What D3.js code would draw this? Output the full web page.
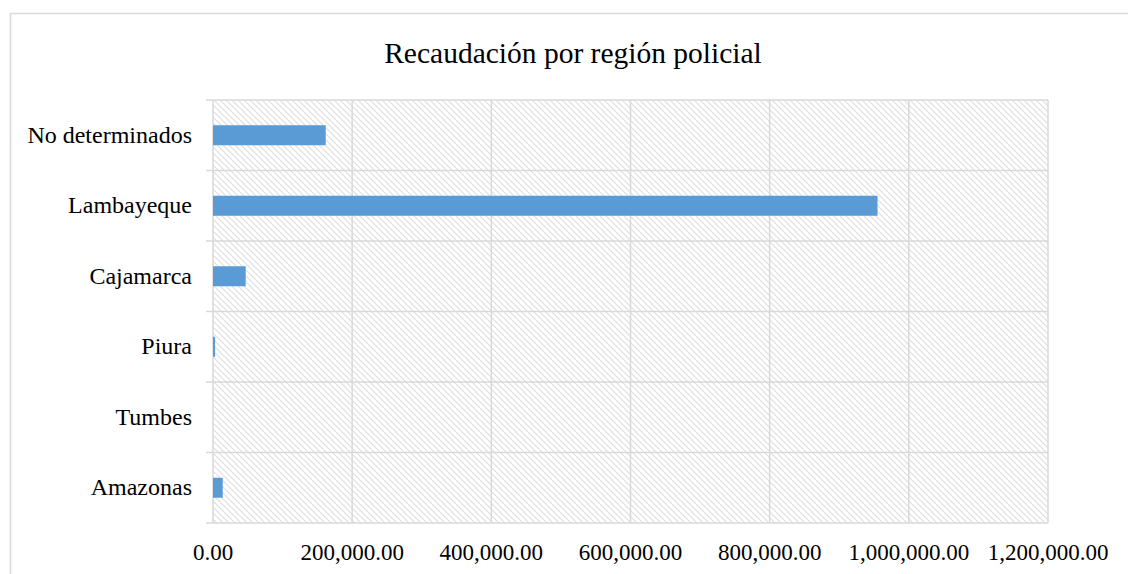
<!DOCTYPE html>
<html>
<head>
<meta charset="utf-8">
<script src="https://cdn.jsdelivr.net/npm/d3@7"></script>
<style>
  body { margin: 0; background: #fff; }
  text { font-family: "Liberation Serif", "Times New Roman", serif; fill: #000; }
</style>
</head>
<body>
<div id="chart"></div>
<script>
// categories, top to bottom
var regions = ["No determinados", "Lambayeque", "Cajamarca", "Piura", "Tumbes", "Amazonas"];
// recaudacion
var amounts = [162000, 955000, 47000, 3000, 0, 14000];
// x axis ticks
var ticks = [0, 200000, 400000, 600000, 800000, 1000000, 1200000];

function init() {
    var w = 1128;
    var h = 574;
    var left = 213, right = 1048, top = 100, bottom = 523;

    var svg = d3.select("#chart")
                .append("svg")
                .attr("width", w)
                .attr("height", h);

    //hatch pattern for the plot area
    var pattern = svg.append("defs")
                    .append("pattern")
                    .attr("id", "hatch")
                    .attr("patternUnits", "userSpaceOnUse")
                    .attr("width", 6)
                    .attr("height", 6);
    pattern.append("path")
        .attr("d", "M-1,-1 L7,7 M-1,5 L1,7 M5,-1 L7,1")
        .attr("stroke", "#dedede")
        .attr("stroke-width", 1.2);

    //outer chart border
    svg.append("rect")
        .attr("x", 10.5)
        .attr("y", 13.5)
        .attr("width", w)
        .attr("height", h)
        .attr("fill", "none")
        .attr("stroke", "#d9d9d9")
        .attr("stroke-width", 1.5);

    var x = d3.scaleLinear()
                .domain([0, 1200000])
                .range([left, right]);

    var y = d3.scaleBand()
                .domain(regions)
                .range([top, bottom]);

    //plot area
    svg.append("rect")
        .attr("x", left)
        .attr("y", top)
        .attr("width", right - left)
        .attr("height", bottom - top)
        .attr("fill", "url(#hatch)");

    //vertical gridlines
    svg.selectAll("line.vgrid")
        .data(ticks)
        .enter()
        .append("line")
        .attr("class", "vgrid")
        .attr("x1", function(d) { return x(d); })
        .attr("x2", function(d) { return x(d); })
        .attr("y1", top)
        .attr("y2", bottom)
        .attr("stroke", "#d9d9d9")
        .attr("stroke-width", 1.5);

    //category separators (with small outer ticks)
    var bounds = regions.map(function(d) { return y(d); }).concat([bottom]);
    svg.selectAll("line.hgrid")
        .data(bounds)
        .enter()
        .append("line")
        .attr("class", "hgrid")
        .attr("x1", left - 7)
        .attr("x2", right)
        .attr("y1", function(d) { return d; })
        .attr("y2", function(d) { return d; })
        .attr("stroke", "#d9d9d9")
        .attr("stroke-width", 1.5);

    //bars
    var barH = 20;
    svg.selectAll("rect.bar")
        .data(regions)
        .enter()
        .append("rect")
        .attr("class", "bar")
        .attr("x", x(0))
        .attr("y", function(d) { return y(d) + y.bandwidth() / 2 - barH / 2; })
        .attr("width", function(d, i) { return x(amounts[i]) - x(0); })
        .attr("height", barH)
        .attr("fill", "#5b9bd5");

    //category labels
    svg.selectAll("text.cat")
        .data(regions)
        .enter()
        .append("text")
        .attr("class", "cat")
        .attr("x", 192)
        .attr("y", function(d) { return y(d) + y.bandwidth() / 2; })
        .attr("dy", "0.32em")
        .attr("text-anchor", "end")
        .style("font-size", "24px")
        .text(function(d) { return d; });

    //x axis labels
    var fmt = d3.format(",.2f");
    svg.selectAll("text.tick")
        .data(ticks)
        .enter()
        .append("text")
        .attr("class", "tick")
        .attr("x", function(d) { return x(d); })
        .attr("y", 560)
        .attr("text-anchor", "middle")
        .style("font-size", "23px")
        .text(function(d) { return fmt(d); });

    //title
    svg.append("text")
        .attr("x", 573)
        .attr("y", 63)
        .attr("text-anchor", "middle")
        .style("font-size", "29.5px")
        .text("Recaudación por región policial");
}

window.onload = init;
</script>
</body>
</html>
